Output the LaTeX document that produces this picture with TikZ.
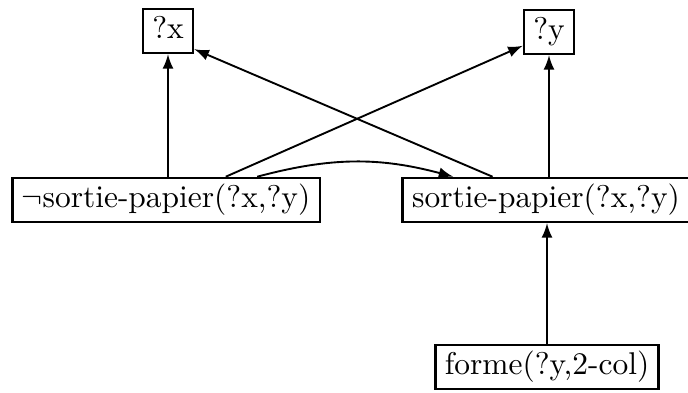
\documentclass[tikz,border=0pt]{standalone}
\usepackage{tikz}
\usetikzlibrary{arrows}
\usepackage{amsmath}
\tikzset{
  litbox/.style={draw, line width=0.8pt, inner xsep=3pt, inner ysep=2pt,
                 text height=7.5pt, text depth=2.5pt},
  lien/.style={->, >=latex, line width=0.6pt}
}

\begin{document}
\begin{tikzpicture}[x=0.318pt, y=-0.318pt]
                    \useasboundingbox (0,0) rectangle (688,393);
                    \node[litbox] (qx) at (168,31) {?x};
                    \node[litbox] (qy) at (549,32) {?y};
                    \node[litbox] (neg) at (166,200) {$\neg$sortie-papier(?x,?y)};
                    \node[litbox] (pos) at (546,200) {sortie-papier(?x,?y)};
                    \node[litbox] (forme) at (547,367) {forme(?y,2-col)};
                    \draw[lien] (neg.north -| qx.south) -- (qx.south);
                    \draw[lien] (pos.north -| qy.south) -- (qy.south);
                    \draw[lien] ([xshift=19pt]neg.north) -- ([yshift=3pt]qy.south west);
                    \draw[lien] ([xshift=-17pt]pos.north) -- ([yshift=1.6pt]qx.south east);
                    \draw[lien] ([xshift=29pt]neg.north) to[bend left=15] ([xshift=-29.5pt]pos.north);
                    \draw[lien] (forme.north) -- (forme.north |- pos.south);
                \end{tikzpicture}
\end{document}
